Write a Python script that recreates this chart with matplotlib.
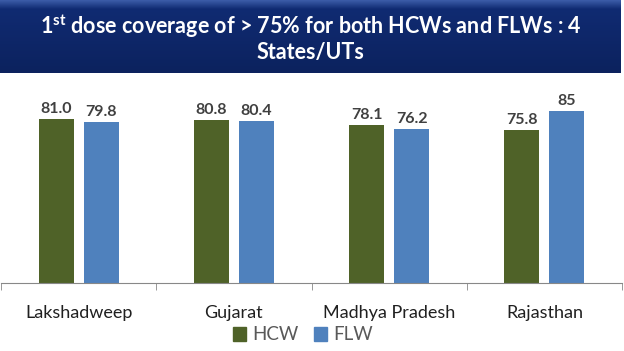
import numpy as np
import matplotlib.pyplot as plt
from matplotlib.patches import Patch

plt.rcParams['font.family'] = ['Lato', 'DejaVu Sans']

states = ['Lakshadweep', 'Gujarat', 'Madhya Pradesh', 'Rajasthan']
hcw = [81.0, 80.8, 78.1, 75.8]
flw = [79.8, 80.4, 76.2, 85]
hcw_labels = ['81.0', '80.8', '78.1', '75.8']
flw_labels = ['79.8', '80.4', '76.2', '85']

green = '#4F6228'
blue = '#4F81BD'

W, H = 624, 351
fig = plt.figure(figsize=(W / 100, H / 100), dpi=100)

# title banner with a soft vertical gradient
ban = fig.add_axes([0, 1 - 73 / H, 621 / W, 73 / H])
grad = np.linspace(0, 1, 100).reshape(-1, 1)
top = np.array([0x3B, 0x5C, 0xA8]) / 255
mid = np.array([0x10, 0x2B, 0x72]) / 255
bot = np.array([0x0C, 0x22, 0x5E]) / 255
img = np.where(grad < 0.12, top + (mid - top) * (grad / 0.12), mid + (bot - mid) * ((grad - 0.12) / 0.88))
img = img.reshape(100, 1, 3)
ban.imshow(img, aspect='auto', extent=[0, 1, 0, 1])
ban.set_xlim(0, 1)
ban.set_ylim(0, 1)
ban.axis('off')
ban.text(0.5, 0.64, r'1$^{\mathregular{st}}$ dose coverage of > 75% for both HCWs and FLWs : 4',
         ha='center', va='center', color='white', fontsize=15.5, fontweight='bold')
ban.text(0.5, 0.28, 'States/UTs', ha='center', va='center', color='white',
         fontsize=15.5, fontweight='bold')

# bar chart
ax = fig.add_axes([1 / W, (H - 283) / H, 621 / W, 202 / H])
x = np.arange(len(states))
off = 0.145
bw = 0.225
ax.bar(x - off, hcw, bw, color=green, label='HCW')
ax.bar(x + off, flw, bw, color=blue, label='FLW')

for i in range(len(states)):
    ax.text(x[i] - off, hcw[i] + 1.5, hcw_labels[i], ha='center', va='bottom',
            fontsize=11.5, fontweight='bold', color='#404040')
    ax.text(x[i] + off, flw[i] + 1.5, flw_labels[i], ha='center', va='bottom',
            fontsize=11.5, fontweight='bold', color='#404040')

ax.set_xlim(-0.5, len(states) - 0.5)
ax.set_ylim(0, 100)
ax.set_yticks([])
ax.set_xticks(x)
ax.set_xticklabels(states, fontsize=13, color='#202020')
ax.tick_params(axis='x', which='major', length=0, pad=16)
ax.set_xticks(np.arange(-0.5, len(states)), minor=True)
ax.tick_params(axis='x', which='minor', length=5, color='#888888')
for s in ['top', 'right', 'left']:
    ax.spines[s].set_visible(False)
ax.spines['bottom'].set_color('#888888')
ax.patch.set_alpha(0)

handles = [Patch(color=green, label='HCW'), Patch(color=blue, label='FLW')]
fig.legend(handles=handles, loc='center', bbox_to_anchor=(303 / W, (H - 335) / H),
           ncol=2, frameon=False, fontsize=13.5, handlelength=0.7, handleheight=0.7,
           handletextpad=0.35, columnspacing=0.8, labelcolor='#595959')

fig.savefig('out.png', dpi=100)
